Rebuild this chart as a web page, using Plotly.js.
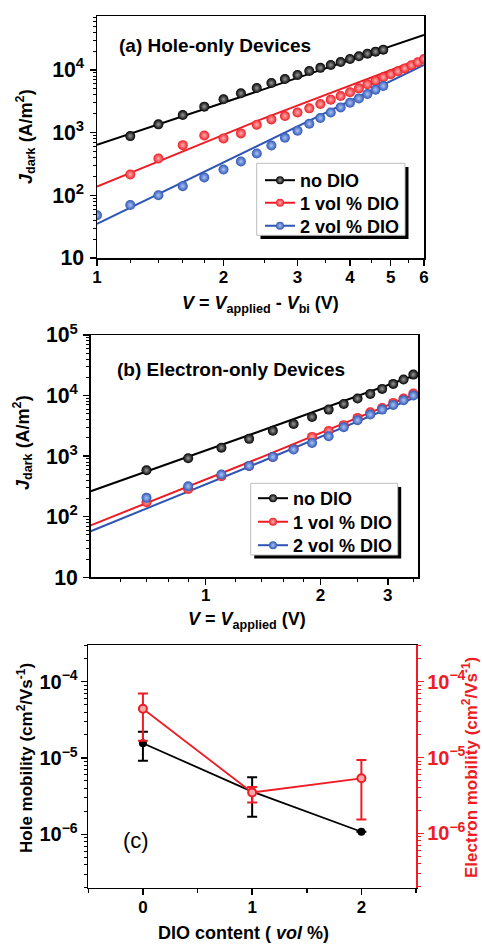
<!DOCTYPE html>
<html><head><meta charset="utf-8">
<script src="https://cdn.plot.ly/plotly-3.0.1.min.js"></script>
<style>html,body{margin:0;padding:0;background:#fff;}#chart{width:482px;height:944px;}</style>
</head><body><div id="chart"></div>
<script>
// ---------- Data (a) Hole-only devices ----------
const aXno  = [1.2,1.4,1.6,1.8,2.0,2.2,2.4,2.6,2.8,3.0,3.2,3.4,3.6,3.8,4.0,4.2,4.4,4.6,4.8];
const aNoDIO = [880,1355,1910,2600,3400,4240,5150,6200,7180,8320,9640,10800,12000,13400,15000,16500,18200,19600,21100];
const aX1   = [1.2,1.4,1.6,1.8,2.0,2.2,2.4,2.6,2.8,3.0,3.2,3.4,3.6,3.8,4.0,4.2,4.4,4.6,4.8,5.0,5.2,5.4,5.6,5.8,6.0];
const a1DIO = [215,387,632,903,809,973,1337,1627,1840,2100,2440,2860,3360,3840,4400,5090,5900,6760,7640,8530,9530,10600,11900,13300,15000];
const aX2   = [1.0,1.2,1.4,1.6,1.8,2.0,2.2,2.4,2.6,2.8,3.0,3.2,3.4,3.6,3.8,4.0,4.2,4.4,4.6,4.8];
const a2DIO = [48,70,100,140,193,258,347,466,625,828,1072,1387,1710,2100,2530,3000,3520,4130,4850,5550];
const fitAX  = [1, 2.44, 6];
const fitANo = [637, 4680, 36200];
const fitA1  = [138, 1596, 15900];
const fitA2  = [35, 637, 12000];
const aXTicks = [1,2,3,4,5,6];
const aXMinor = [1.2,1.4,1.6,1.8,2.5,3.5,4.5,5.5];

// ---------- Data (b) Electron-only devices ----------
const bX   = [0.7,0.9,1.1,1.3,1.5,1.7,1.9,2.1,2.3,2.5,2.7,2.9,3.1,3.3,3.5];
const bNoDIO = [586,925,1380,1930,2620,3400,4440,5870,7280,8920,10660,12900,15600,18400,22200];
const b1DIO  = [173,288,466,690,972,1330,2080,2600,3250,4280,5300,6250,7570,8920,10800];
const b2DIO  = [205,318,497,690,972,1285,1655,2130,3000,3920,4860,5870,7020,8370,10000];
const fitBX  = [0.5, 1.387, 3.6];
const fitBNo = [264, 2575, 22500];
const fitB1  = [72, 938, 11070];
const fitB2  = [57.5, 794, 9750];
const bXTicks = [1,2,3];
const bXMinor = [0.6,0.7,0.8,0.9,1.2,1.4,1.6,1.8,2.5,3.5];

// ---------- Data (c) Mobility ----------
const dio = [0, 1, 2];
const dioTicks = ['0','1','2'];
const holeMob = [1.56e-5, 3.62e-6, 1.08e-6];
const holeErrPlus  = [6.5e-6, 1.96e-6, 0];
const holeErrMinus = [6.4e-6, 1.92e-6, 0];
const elecMob = [4.4e-5, 3.46e-6, 5.33e-6];
const elecErrPlus  = [2.6e-5, 0.64e-6, 3.97e-6];
const elecErrMinus = [2.73e-5, 0.91e-6, 3.8e-6];

const seriesNames = ['no DIO', '1 vol % DIO', '2 vol % DIO'];

// ---------- Styling ----------
const W = 482, H = 944;
const px = v => v / W;
const py = v => 1 - v / H;
const FONT = 'Liberation Sans, Arial, sans-serif';
const BLACK = '#000000', RED = '#ee1c24', BLUE = '#2f55b4';
const colors = [BLACK, RED, BLUE];
const grads = ['#9a9a9a', '#ffb0b0', '#a9c4f5'];

function markerTrace(x, y, i, xa, ya) {
  return {x: x, y: y, xaxis: xa, yaxis: ya, mode: 'markers', type: 'scatter', showlegend: false,
    marker: {size: 10, color: colors[i], gradient: {type: 'radial', color: grads[i]}, line: {width: 0}}};
}
function fitTrace(x, y, i, xa, ya) {
  return {x: x, y: y, xaxis: xa, yaxis: ya, mode: 'lines', type: 'scatter', showlegend: false,
    line: {color: colors[i], width: 2}};
}
function legendTrace(i, xa, ya, lg) {
  return {x: [null], y: [null], xaxis: xa, yaxis: ya, mode: 'lines+markers', type: 'scatter',
    name: seriesNames[i], legend: lg, showlegend: true,
    line: {color: colors[i], width: 2},
    marker: {size: 8, color: colors[i], gradient: {type: 'radial', color: grads[i]}}};
}

const traces = [
  fitTrace(fitAX, fitANo, 0, 'x', 'y'),
  fitTrace(fitAX, fitA1, 1, 'x', 'y'),
  fitTrace(fitAX, fitA2, 2, 'x', 'y'),
  markerTrace(aXno, aNoDIO, 0, 'x', 'y'),
  markerTrace(aX1, a1DIO, 1, 'x', 'y'),
  markerTrace(aX2, a2DIO, 2, 'x', 'y'),
  legendTrace(0, 'x', 'y', 'legend'),
  legendTrace(1, 'x', 'y', 'legend2'),
  legendTrace(2, 'x', 'y', 'legend3'),

  fitTrace(fitBX, fitBNo, 0, 'x2', 'y2'),
  fitTrace(fitBX, fitB1, 1, 'x2', 'y2'),
  fitTrace(fitBX, fitB2, 2, 'x2', 'y2'),
  markerTrace(bX, bNoDIO, 0, 'x2', 'y2'),
  markerTrace(bX, b1DIO, 1, 'x2', 'y2'),
  markerTrace(bX, b2DIO, 2, 'x2', 'y2'),
  legendTrace(0, 'x2', 'y2', 'legend4'),
  legendTrace(1, 'x2', 'y2', 'legend5'),
  legendTrace(2, 'x2', 'y2', 'legend6'),

  {x: dio, y: holeMob, xaxis: 'x3', yaxis: 'y3', type: 'scatter', mode: 'lines+markers', showlegend: false,
   line: {color: BLACK, width: 1.8}, marker: {size: 8, color: BLACK},
   error_y: {type: 'data', symmetric: false, array: holeErrPlus, arrayminus: holeErrMinus,
             color: BLACK, thickness: 2, width: 5}},
  {x: dio, y: elecMob, xaxis: 'x3', yaxis: 'y4', type: 'scatter', mode: 'lines+markers', showlegend: false,
   line: {color: RED, width: 1.8}, marker: {size: 8, color: '#f7a8a8', line: {color: RED, width: 2}},
   error_y: {type: 'data', symmetric: false, array: elecErrPlus, arrayminus: elecErrMinus,
             color: RED, thickness: 2, width: 5}}
];

const tickFont = {family: FONT, size: 17, color: BLACK, weight: 'bold'};
function baseAxis(extra) {
  return Object.assign({
    showgrid: false, zeroline: false, showline: true, linecolor: BLACK, linewidth: 1.5,
    ticks: 'outside', ticklen: 6, tickwidth: 1.5, tickcolor: BLACK, tickfont: tickFont,
    mirror: true, fixedrange: true, ticklabelstandoff: 2
  }, extra);
}
const logY = (range, dom, anchor) => baseAxis({type: 'log', range: range, domain: dom, anchor: anchor,
  dtick: 1, exponentformat: 'power', minor: {dtick: 'D1', ticks: 'outside', ticklen: 3, tickcolor: BLACK, tickwidth: 1}});

function lg(xp, yp) {
  return {x: px(xp), y: py(yp), xanchor: 'left', yanchor: 'middle', bgcolor: 'rgba(0,0,0,0)', borderwidth: 0,
    font: {family: FONT, size: 18, color: BLACK, weight: 'bold'}, itemwidth: 30};
}

const layout = {
  width: W, height: H, margin: {l: 0, r: 0, t: 0, b: 0},
  paper_bgcolor: '#fff', plot_bgcolor: '#fff',
  font: {family: FONT, color: BLACK},
  xaxis: baseAxis({type: 'log', range: [0, Math.log10(6)], domain: [px(97), px(424)], anchor: 'y',
    tickmode: 'array', tickvals: aXTicks, ticktext: aXTicks.map(String), ticklabelstandoff: -3,
    minor: {tickmode: 'array', tickvals: aXMinor, ticks: 'outside', ticklen: 3, tickcolor: BLACK, tickwidth: 1}}),
  yaxis: logY([1, 4.861], [py(258), py(16)], 'x'),
  xaxis2: baseAxis({type: 'log', range: [Math.log10(0.5), Math.log10(3.6)], domain: [px(90.7), px(418)], anchor: 'y2',
    tickmode: 'array', tickvals: bXTicks, ticktext: bXTicks.map(String), ticklabelstandoff: -4,
    minor: {tickmode: 'array', tickvals: bXMinor, ticks: 'outside', ticklen: 3, tickcolor: BLACK, tickwidth: 1}}),
  yaxis2: logY([1, 5], [py(577.3), py(335)], 'x2'),
  xaxis3: baseAxis({type: 'linear', range: [-0.5, 2.5], domain: [px(88.3), px(416)], anchor: 'y3',
    tickmode: 'array', tickvals: dio, ticktext: dioTicks, ticklabelstandoff: -3,
    minor: {dtick: 0.5, tick0: 0, ticks: 'outside', ticklen: 4, tickcolor: BLACK, tickwidth: 1.5}}),
  yaxis3: Object.assign(logY([-6.70, -3.52], [py(887.7), py(645)], 'x3'),
    {mirror: false, ticklabelstandoff: 0, tickfont: Object.assign({}, tickFont, {size: 16})}),
  yaxis4: baseAxis({type: 'log', range: [-6.716, -3.516], overlaying: 'y3', side: 'right', anchor: 'x3',
    dtick: 1, exponentformat: 'power', mirror: false, ticklabelstandoff: 0,
    linecolor: RED, tickcolor: RED, linewidth: 2, tickfont: Object.assign({}, tickFont, {size: 16, color: RED}),
    minor: {dtick: 'D1', ticks: 'outside', ticklen: 3, tickcolor: RED, tickwidth: 1}}),
  legend: lg(260, 180.5),
  legend2: lg(260, 203),
  legend3: lg(260, 226),
  legend4: lg(253, 498.5),
  legend5: lg(253, 522),
  legend6: lg(253, 545.5),
  shapes: [
    {type: 'rect', xref: 'paper', yref: 'paper', layer: 'above', x0: px(260.5), x1: px(408.5), y0: py(167), y1: py(239), fillcolor: BLACK, line: {width: 0}},
    {type: 'rect', xref: 'paper', yref: 'paper', layer: 'above', x0: px(256.7), x1: px(405), y0: py(163.3), y1: py(235.3), fillcolor: '#fff', line: {color: '#bdbdbd', width: 1}},
    {type: 'rect', xref: 'paper', yref: 'paper', layer: 'above', x0: px(254.2), x1: px(401.2), y0: py(487), y1: py(558.5), fillcolor: BLACK, line: {width: 0}},
    {type: 'rect', xref: 'paper', yref: 'paper', layer: 'above', x0: px(250.7), x1: px(397.7), y0: py(483.3), y1: py(555), fillcolor: '#fff', line: {color: '#bdbdbd', width: 1}}
  ],
  annotations: [
    {text: '(a) Hole-only Devices', x: px(117), y: py(45.7), xanchor: 'left', yanchor: 'middle', font: {size: 19, weight: 'bold'}},
    {text: '(b) Electron-only Devices', x: px(115), y: py(370), xanchor: 'left', yanchor: 'middle', font: {size: 19, weight: 'bold'}},
    {text: '(c)', x: px(121), y: py(840), xanchor: 'left', yanchor: 'middle', font: {size: 22}},
    {text: '<i>J</i><sub>dark</sub> (A/m<sup>2</sup>)', x: px(25), y: py(137), textangle: -90, font: {size: 18, weight: 'bold'}},
    {text: '<i>V</i> = <i>V</i><sub>applied</sub> - <i>V</i><sub>bi</sub> (V)', x: px(260), y: py(304), font: {size: 18, weight: 'bold'}},
    {text: '<i>J</i><sub>dark</sub> (A/m<sup>2</sup>)', x: px(22), y: py(443), textangle: -90, font: {size: 18, weight: 'bold'}},
    {text: '<i>V</i> = <i>V</i><sub>applied</sub> (V)', x: px(247), y: py(620), font: {size: 18, weight: 'bold'}},
    {text: 'Hole mobility (cm<sup>2</sup>/Vs<sup>-1</sup>)', x: px(25), y: py(758), textangle: -90, font: {size: 17, weight: 'bold'}},
    {text: 'Electron mobility (cm<sup>2</sup>/Vs<sup>-1</sup>)', x: px(470), y: py(768), textangle: -90, font: {size: 17, weight: 'bold', color: RED}},
    {text: 'DIO content ( <i>vol</i> %)', x: px(243), y: py(933), font: {size: 18, weight: 'bold'}}
  ].map(a => Object.assign({xref: 'paper', yref: 'paper', showarrow: false, xanchor: 'center', yanchor: 'middle'}, a,
      {font: Object.assign({family: FONT, color: BLACK}, a.font)}))
};

Plotly.newPlot('chart', traces, layout, {displayModeBar: false, staticPlot: true});
</script></body></html>
